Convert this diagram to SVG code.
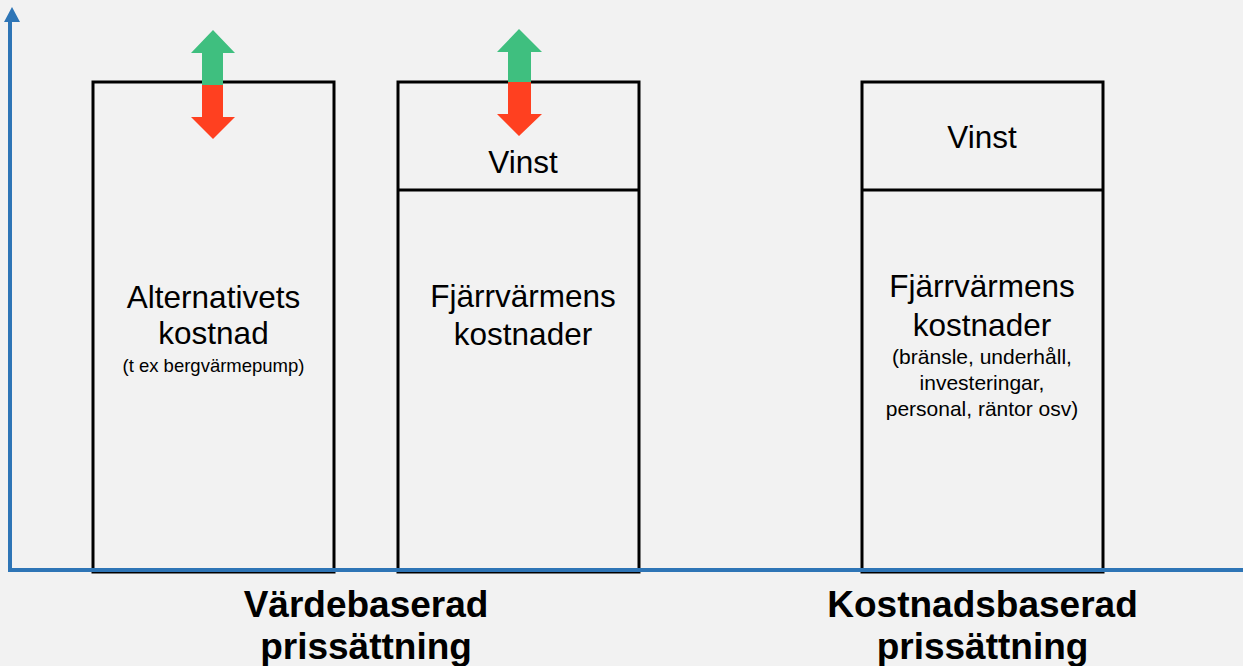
<svg xmlns="http://www.w3.org/2000/svg" width="1243" height="666" viewBox="0 0 1243 666">
<style>
.box{fill:none;stroke:#000;stroke-width:3}
.t{font-family:"Liberation Sans",Arial,sans-serif;fill:#000;text-anchor:middle}
.big{font-size:31.5px}
.small{font-size:18.5px}
.mid{font-size:21px}
.lbl{font-size:37px;font-weight:bold}
.ax{stroke:#2e75b6;stroke-width:4;fill:none}
.up{fill:#3fbf7f}
.dn{fill:#ff4020}
</style>
<rect width="1243" height="666" fill="#f2f2f2"/>
<g id="box1">
<rect class="box" x="93" y="82" width="241" height="490"/>
<text class="t big" x="213.5" y="308">Alternativets</text>
<text class="t big" x="213.5" y="344">kostnad</text>
<text class="t small" x="213.5" y="372">(t ex bergvärmepump)</text>
</g>
<g id="box2">
<rect class="box" x="398" y="82" width="241" height="490"/>
<line class="box" x1="398" y1="190" x2="639" y2="190"/>
<text class="t big" x="523" y="173">Vinst</text>
<text class="t big" x="523" y="307">Fjärrvärmens</text>
<text class="t big" x="523" y="345">kostnader</text>
</g>
<g id="box3">
<rect class="box" x="862" y="82" width="241" height="490"/>
<line class="box" x1="862" y1="190" x2="1103" y2="190"/>
<text class="t big" x="982" y="148">Vinst</text>
<text class="t big" x="982" y="297">Fjärrvärmens</text>
<text class="t big" x="982" y="336">kostnader</text>
<text class="t mid" x="982" y="364">(bränsle, underhåll,</text>
<text class="t mid" x="982" y="390">investeringar,</text>
<text class="t mid" x="982" y="416">personal, räntor osv)</text>
</g>
<g id="arrow1">
<polygon class="up" points="213,30 235,53 223,53 223,85 202,85 202,53 191,53"/>
<polygon class="dn" points="202,85 223,85 223,117 235,117 213,139 191,117 202,117"/>
</g>
<g id="arrow2">
<polygon class="up" points="519,29 542,52 531,52 531,82 508,82 508,52 497,52"/>
<polygon class="dn" points="508,82 531,82 531,114 542,114 519,136 497,114 508,114"/>
</g>
<g id="axes">
<polyline class="ax" points="10,18 10,570 1243,570"/>
<polygon fill="#2e75b6" points="12,7 20,22 4,22"/>
</g>
<g id="labels">
<text class="t lbl" x="366" y="617">Värdebaserad</text>
<text class="t lbl" x="366" y="659">prissättning</text>
<text class="t lbl" x="982.5" y="617">Kostnadsbaserad</text>
<text class="t lbl" x="982.5" y="659">prissättning</text>
</g>
</svg>
